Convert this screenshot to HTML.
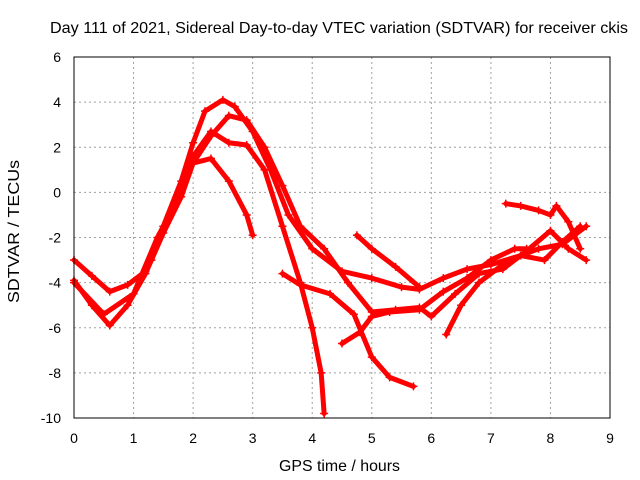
<!DOCTYPE html>
<html><head><meta charset="utf-8"><style>
body{margin:0;background:#fff}
svg{display:block;font-family:"Liberation Sans",sans-serif}
</style></head><body>
<svg id="chart" width="640" height="480">
<rect width="640" height="480" fill="#fff"/>
<text x="50" y="33" font-size="16" textLength="578" lengthAdjust="spacingAndGlyphs">Day 111 of 2021, Sidereal Day-to-day VTEC variation (SDTVAR) for receiver ckis</text>
<g id="grid"></g>
<g id="series"></g>
<rect x="74" y="57" width="536" height="361" fill="none" stroke="#000" stroke-width="1"/>
<g id="ticks"></g>
<text x="279" y="471" font-size="16" textLength="121" lengthAdjust="spacingAndGlyphs">GPS time / hours</text>
<text transform="translate(19,303) rotate(-90)" font-size="16" textLength="143" lengthAdjust="spacingAndGlyphs">SDTVAR / TECUs</text>
</svg>
<script>
const xTicks=[0,1,2,3,4,5,6,7,8,9];
const yTicks=[6,4,2,0,-2,-4,-6,-8,-10];
const trackA=[[0,-3],[0.3,-3.7],[0.6,-4.4],[0.9,-4.1],[1.2,-3.5],[1.5,-1.5],[1.8,0.5],[2.0,2.2],[2.2,3.6],[2.5,4.1],[2.7,3.8],[3.0,2.7],[3.3,1.0],[3.6,-1],[4.0,-2.5],[4.5,-3.5],[5.0,-3.8],[5.5,-4.2],[5.8,-4.3],[6.2,-3.8],[6.6,-3.4],[7.0,-3.2],[7.5,-2.8],[7.9,-3.0],[8.2,-2.2],[8.5,-1.5]];
const trackB=[[0,-3.9],[0.3,-5],[0.6,-5.9],[0.9,-5],[1.2,-3.6],[1.5,-1.8],[1.8,-0.2],[2.0,1.3],[2.3,2.5],[2.6,3.4],[2.9,3.2],[3.2,2.0],[3.5,0.3],[3.8,-1.5],[4.2,-2.5],[4.6,-4],[5.0,-5.3],[5.4,-5.2],[5.8,-5.1],[6.0,-5.5],[6.4,-4.5],[6.8,-3.6],[7.2,-3.4],[7.6,-2.6],[8.0,-1.7],[8.3,-2.5],[8.6,-3]];
const trackC=[[0,-4],[0.5,-5.4],[1.0,-4.5],[1.4,-2],[1.7,-0.5],[2.0,1.6],[2.3,2.7],[2.6,2.2],[2.9,2.1],[3.2,1],[3.5,-1.5],[3.8,-4],[4.0,-6],[4.15,-8],[4.2,-9.8]];
const trackD=[[1.3,-3],[1.6,-1],[2.0,1.3],[2.3,1.5],[2.6,0.5],[2.9,-1],[3.0,-1.9]];
const trackE=[[3.5,-3.6],[3.8,-4.1],[4.3,-4.5],[4.7,-5.4],[5.0,-7.3],[5.3,-8.2],[5.7,-8.6]];
const trackF=[[4.5,-6.7],[4.8,-6.2],[5.0,-5.5],[5.3,-5.3],[5.8,-5.2],[6.2,-4.4],[6.6,-3.8],[7.0,-3.0],[7.4,-2.5],[7.6,-2.5]];
const trackG=[[4.75,-1.9],[5.0,-2.5],[5.4,-3.3],[5.8,-4.2]];
const trackH=[[6.25,-6.3],[6.5,-5],[6.8,-4],[7.2,-3.2],[7.5,-2.8],[7.8,-2.5],[8.2,-2.3],[8.6,-1.5]];
const trackI=[[7.25,-0.5],[7.5,-0.6],[7.8,-0.8],[8.0,-1.0],[8.1,-0.6],[8.3,-1.3],[8.5,-2.5]];
const tracks=[trackA,trackB,trackC,trackD,trackE,trackF,trackG,trackH,trackI];
const X=v=>74+v*(536/9), Y=v=>57+(6-v)*(361/16);
const NS='http://www.w3.org/2000/svg';
const grid=document.getElementById('grid'),ticks=document.getElementById('ticks'),ser=document.getElementById('series');
function mk(t,a,p){const e=document.createElementNS(NS,t);for(const k in a)e.setAttribute(k,a[k]);p.appendChild(e);return e;}
xTicks.forEach(v=>{
 const l=mk('line',{x1:X(v),x2:X(v),y1:57,y2:418,stroke:'#a0a0a0','stroke-dasharray':'2,3'},grid);
 
 
 const t=mk('text',{x:X(v),y:443,'text-anchor':'middle','font-size':'14'},ticks);t.textContent=v;
 
 
});
yTicks.forEach(v=>{
 const l=mk('line',{x1:74,x2:610,y1:Y(v),y2:Y(v),stroke:'#a0a0a0','stroke-dasharray':'2,3'},grid);
 
 
 const t=mk('text',{x:61,y:Y(v)+5,'text-anchor':'end','font-size':'14'},ticks);t.textContent=v;
 
 
});
tracks.forEach((tr,i)=>{
 const p=mk('polyline',{points:tr.map(d=>X(d[0])+','+Y(d[1])).join(' '),fill:'none',stroke:'#ff0000','stroke-width':'5','stroke-linejoin':'round','stroke-linecap':'round'},ser);
 
 
 tr.forEach(d=>{
  const m=mk('path',{d:`M${X(d[0])-4},${Y(d[1])}h8M${X(d[0])},${Y(d[1])-4}v8`,stroke:'#ff0000','stroke-width':'1.5'},ser);
  
  
 });
});
</script>
</body></html>
